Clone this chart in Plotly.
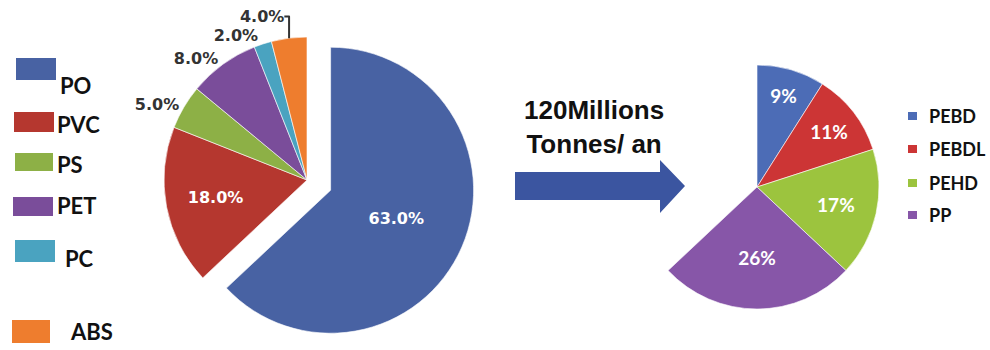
import plotly.graph_objects as go

# ---------------- data ----------------
main_labels = ["PO", "PVC", "PS", "PET", "PC", "ABS"]
main_values = [63.0, 18.0, 5.0, 8.0, 2.0, 4.0]
main_colors = ["#4862a3", "#b5372f", "#8db046", "#7a4d9a", "#4aa3c0", "#ee7d2e"]

po_labels = ["PEBD", "PEBDL", "PEHD", "PP"]
po_values = [9, 11, 17, 26]
po_colors = ["#4c6cb6", "#cc3535", "#9cc43e", "#8756a8"]

arrow_text = ["120Millions", "Tonnes/ an"]

W, H = 990, 350


def px(x):
    return x / W


def py(y):
    return 1 - y / H


def dom(cx, cy, half):
    return dict(x=[px(cx - half), px(cx + half)], y=[py(cy + half), py(cy - half)])


fig = go.Figure()

# ---------------- left pie ----------------
r_left = 143
pull_po = 0.18
left_pos = ["inside", "inside"] + ["outside"] * (len(main_values) - 2)
fig.add_trace(go.Pie(
    labels=main_labels,
    values=main_values,
    sort=False,
    direction="clockwise",
    rotation=0,
    pull=[pull_po] + [0] * (len(main_values) - 1),
    marker=dict(colors=main_colors, line=dict(color="rgba(255,255,255,0.6)", width=1)),
    texttemplate="%{value:.1f}%",
    textposition=left_pos,
    insidetextorientation="horizontal",
    insidetextfont=dict(family="DejaVu Sans", size=16, color="white", weight="bold"),
    outsidetextfont=dict(family="DejaVu Sans", size=16, color="#333333", weight="bold"),
    domain=dom(307, 180, r_left * (1 + pull_po)),
    automargin=False,
    showlegend=False,
    hoverinfo="label+percent",
))

# ---------------- right pie (breakdown of PO) ----------------
remainder = 100 - sum(po_values)
r_right = 122
fig.add_trace(go.Pie(
    labels=po_labels + [" "],
    values=po_values + [remainder],
    sort=False,
    direction="clockwise",
    rotation=0,
    marker=dict(colors=po_colors + ["rgba(0,0,0,0)"],
                line=dict(color=["rgba(255,255,255,0.6)"] * len(po_values) + ["rgba(0,0,0,0)"],
                          width=[1] * len(po_values) + [0])),
    texttemplate=["%{value}%"] * len(po_values) + [""],
    textposition="inside",
    insidetextorientation="horizontal",
    insidetextfont=dict(family="Lato", size=19, color="white", weight="bold"),
    domain=dom(757, 187, r_right),
    automargin=False,
    showlegend=False,
    hoverinfo="label+value",
))

shapes = []
annotations = []

# ---------------- left legend (big swatches) ----------------
left_leg_rects = [(16, 58, 56, 80), (14, 112, 54, 132), (15, 153, 53, 171),
                  (13, 197, 53, 216), (15, 240, 55, 262), (12, 320, 50, 343)]
left_leg_text = [(58, 85), (55, 124), (55, 164), (55, 205), (63, 258), (68, 331)]
for lab, col, (x0, y0, x1, y1), (tx, ty) in zip(main_labels, main_colors, left_leg_rects, left_leg_text):
    shapes.append(dict(type="rect", xref="paper", yref="paper",
                       x0=px(x0), x1=px(x1), y0=py(y1), y1=py(y0),
                       fillcolor=col, line=dict(width=0)))
    annotations.append(dict(text=lab, xref="paper", yref="paper", x=px(tx), y=py(ty),
                            xanchor="left", yanchor="middle", showarrow=False,
                            font=dict(family="Lato", size=22, color="#111111", weight="bold")))

# ---------------- right legend (small squares) ----------------
right_leg_y = [116, 149, 183, 215]
for lab, col, yy in zip(po_labels, po_colors, right_leg_y):
    shapes.append(dict(type="rect", xref="paper", yref="paper",
                       x0=px(908), x1=px(917), y0=py(yy + 4), y1=py(yy - 4),
                       fillcolor=col, line=dict(width=0)))
    annotations.append(dict(text=lab, xref="paper", yref="paper", x=px(927), y=py(yy),
                            xanchor="left", yanchor="middle", showarrow=False,
                            font=dict(family="Lato", size=18, color="#111111", weight="bold")))

# ---------------- arrow + text ----------------
arrow_pts = [(515, 172), (660, 172), (660, 160), (685, 186), (660, 213), (660, 200), (515, 200)]
path = "M " + " L ".join(f"{px(x):.5f},{py(y):.5f}" for x, y in arrow_pts) + " Z"
shapes.append(dict(type="path", xref="paper", yref="paper", path=path,
                   fillcolor="#3b55a0", line=dict(width=0)))
annotations.append(dict(text="<b>" + arrow_text[0] + "</b><br><b>" + arrow_text[1] + "</b>",
                        xref="paper", yref="paper", x=px(594), y=py(127),
                        xanchor="center", yanchor="middle", showarrow=False, align="center",
                        font=dict(family="Liberation Sans", size=26, color="#111111")))

fig.update_layout(
    width=W, height=H,
    margin=dict(l=0, r=0, t=0, b=0, autoexpand=False),
    paper_bgcolor="white",
    plot_bgcolor="white",
    shapes=shapes,
    annotations=annotations,
)

fig.write_html("out.html")
